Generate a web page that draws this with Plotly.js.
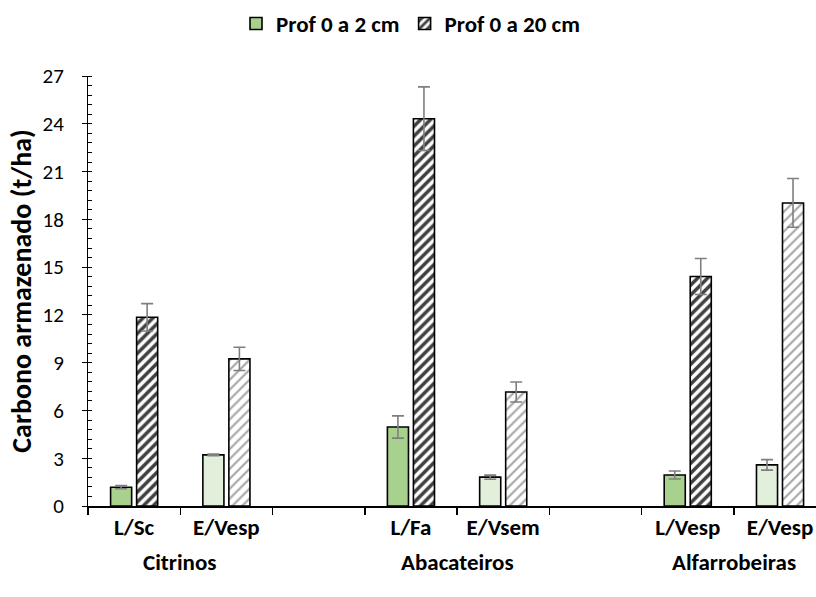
<!DOCTYPE html>
<html>
<head>
<meta charset="utf-8">
<script src="https://cdn.plot.ly/plotly-3.0.1.min.js"></script>
<style>html,body{margin:0;padding:0;background:#fff;}#chart{width:816px;height:597px;}</style>
</head>
<body>
<div id="chart"></div>
<script>
// Data
const positions = [0, 1, 3, 4, 6, 7];
const categoryLabels = ["L/Sc", "E/Vesp", "L/Fa", "E/Vsem", "L/Vesp", "E/Vesp"];
const groupLabels = ["Citrinos", "Abacateiros", "Alfarrobeiras"];
const groupCenters = [0.5, 3.5, 6.5];
const prof2 = [1.18, 3.21, 4.96, 1.81, 1.95, 2.58];
const prof2Err = [0.1, 0.05, 0.7, 0.13, 0.25, 0.33];
const prof20 = [11.85, 9.24, 24.32, 7.16, 14.41, 19.03];
const prof20Err = [0.86, 0.73, 2.0, 0.63, 1.13, 1.53];
const seriesNames = ["Prof 0 a 2 cm", "Prof 0 a 20 cm"];

const FONT = "Carlito, Lato, sans-serif";
const greenColors = ["#A9D18E", "#E2EFDA", "#A9D18E", "#E2EFDA", "#A9D18E", "#E2EFDA"];
const hatchColors = ["#3f3f3f", "#a6a6a6", "#3f3f3f", "#a6a6a6", "#3f3f3f", "#a6a6a6"];
const hatchSolidity = [0.5, 0.3, 0.5, 0.3, 0.5, 0.3];

const errStyle = {type: "data", visible: true, color: "#7f7f7f", thickness: 1.6, width: 6};

const traces = [
  {
    type: "bar", name: seriesNames[0], x: positions, y: prof2,
    error_y: Object.assign({array: prof2Err}, errStyle),
    marker: {color: greenColors, line: {color: "#000", width: 1.6}}
  },
  {
    type: "bar", name: seriesNames[1], x: positions, y: prof20,
    error_y: Object.assign({array: prof20Err}, errStyle),
    marker: {
      color: "#ffffff",
      line: {color: "#000", width: 1.6},
      pattern: {shape: "/", fgcolor: hatchColors, bgcolor: "#ffffff", size: 7, solidity: hatchSolidity}
    }
  }
];

const annotations = groupLabels.map((g, i) => ({
  text: g, x: groupCenters[i], xref: "x", y: -0.13, yref: "paper",
  xanchor: "center", yanchor: "middle", showarrow: false,
  font: {family: FONT, size: 23, color: "#000", weight: "bold"}
}));

const layout = {
  width: 816, height: 597,
  margin: {l: 88, r: 0, t: 76, b: 91},
  paper_bgcolor: "#fff", plot_bgcolor: "#fff",
  font: {family: FONT, color: "#000"},
  barmode: "group", bargap: 0.436, bargroupgap: 0.19,
  showlegend: true,
  legend: {
    orientation: "h", x: 0.443, xanchor: "center", y: 1.122, yanchor: "middle",
    font: {family: FONT, size: 23, color: "#000", weight: "bold"},
    traceorder: "normal"
  },
  xaxis: {
    range: [-0.5, 7.39], tickmode: "array", tickvals: positions, ticktext: categoryLabels,
    ticks: "", showgrid: false, zeroline: false, showline: true, linecolor: "#000", linewidth: 1.5,
    tickfont: {family: FONT, size: 23, color: "#000", weight: "bold"},
    ticklabelstandoff: 0,
    minor: {ticks: "outside", tick0: 0.5, dtick: 1, ticklen: 7, tickcolor: "#000", tickwidth: 1.5, showgrid: false}
  },
  yaxis: {
    range: [0, 27], tickmode: "linear", tick0: 0, dtick: 3,
    ticks: "outside", ticklen: 5, tickcolor: "#000", tickwidth: 1,
    showgrid: false, zeroline: false, showline: true, linecolor: "#000", linewidth: 1,
    tickfont: {family: FONT, size: 21, color: "#000"},
    ticklabelstandoff: 14,
    title: {text: "Carbono armazenado (t/ha)", font: {family: FONT, size: 28, color: "#000", weight: "bold"}, standoff: 2},
    minor: {ticks: "inside", dtick: 0.6, tick0: 0, ticklen: 4, tickcolor: "#000", tickwidth: 1, showgrid: false}
  },
  yaxis2: {
    overlaying: "y", range: [0, 27], tickmode: "linear", tick0: 0, dtick: 3,
    ticks: "inside", ticklen: 5, tickcolor: "#000", tickwidth: 1,
    showticklabels: false, showgrid: false, zeroline: false, showline: false, side: "left"
  },
  annotations: annotations
};

Plotly.newPlot("chart", traces, layout, {displayModeBar: false, staticPlot: true});
</script>
</body>
</html>
